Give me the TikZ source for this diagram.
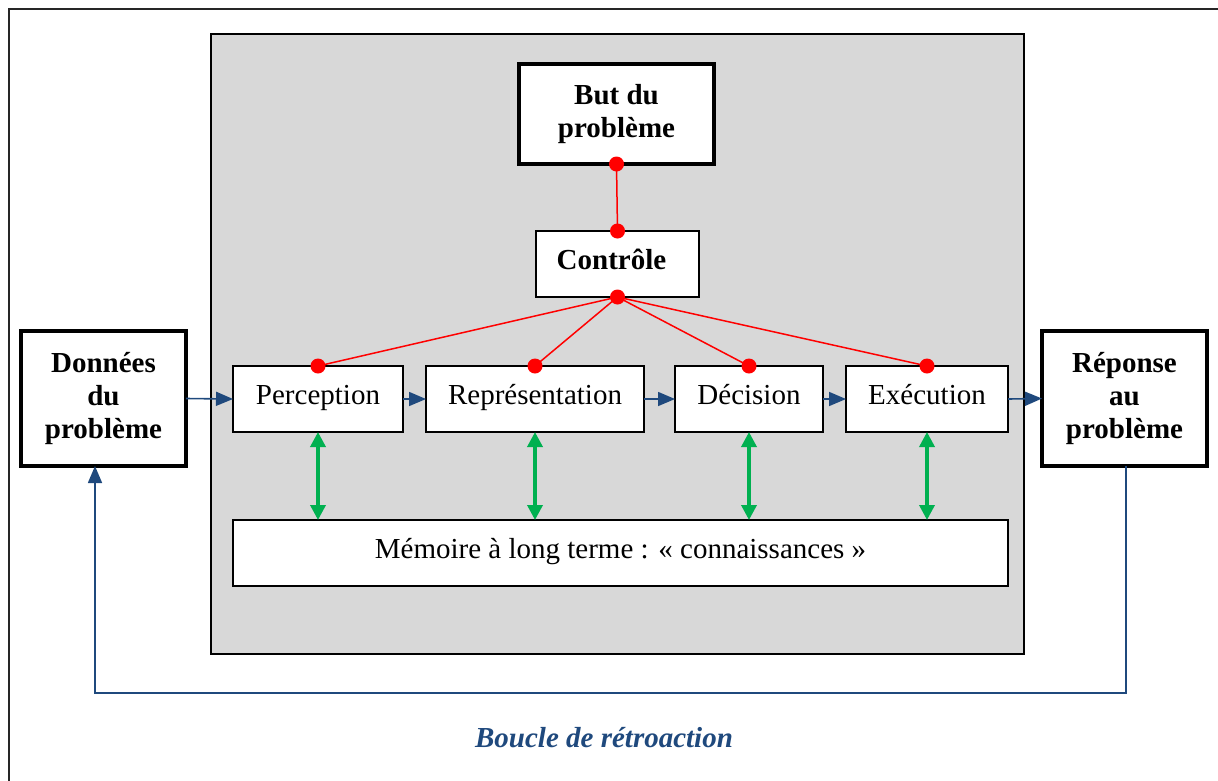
\documentclass[tikz,border=0pt]{standalone}
\usepackage{fontspec}
\setmainfont{Liberation Serif}
\usetikzlibrary{arrows.meta}
\definecolor{panelgray}{RGB}{216,216,216}
\definecolor{flowblue}{RGB}{31,73,125}
\definecolor{memgreen}{RGB}{0,176,80}
\definecolor{linkred}{RGB}{255,0,0}
\begin{document}
\begin{tikzpicture}[x=1pt,y=-1pt,
  stepbox/.style={draw, fill=white, line width=1.3pt, minimum height=66pt,
    inner sep=0pt, outer sep=0pt, text height=20pt, text depth=10pt,
    font=\fontsize{29}{33}\selectfont},
  endbox/.style={draw, fill=white, line width=4pt, inner sep=0pt, outer sep=0pt,
    align=center, font=\bfseries\fontsize{29}{33}\selectfont},
  flow/.style={draw=flowblue, line width=1.6pt, -{Triangle[length=17pt,width=14pt]}},
  memlink/.style={draw=memgreen, line width=3.5pt,
    {Triangle[length=15pt,width=15pt]}-{Triangle[length=15pt,width=15pt]}},
  ctrllink/.style={draw=linkred, line width=1.5pt},
  reddot/.style={circle, fill=linkred, inner sep=0pt, minimum size=15pt}]
\useasboundingbox (0,0) rectangle (1218,780);
\clip (0,0) rectangle (1218,780);
% outer frame and grey processing panel
\draw[line width=2pt, draw=black!85] (9,9) rectangle (1240,800);
\draw[fill=panelgray, line width=2pt] (211,34) rectangle (1024,654);

% goal and control
\node[endbox, minimum width=195pt, minimum height=100pt] (goal) at (616.5,114) {But du\\problème};
\node[stepbox, minimum width=163pt, font=\bfseries\fontsize{29}{33}\selectfont] (ctrl) at (617.5,264) {Contrôle\hspace*{12pt}};

% input and output
\node[endbox, minimum width=165pt, minimum height=135pt] (data) at (103.5,398.5) {Données\\du\\problème};
\node[endbox, minimum width=165pt, minimum height=135pt] (answer) at (1124.5,398.5) {Réponse\\au\\problème};

% processing steps
\node[stepbox, minimum width=170pt] (perc) at (318,399) {Perception};
\node[stepbox, minimum width=218pt] (repr) at (535,399) {Représentation};
\node[stepbox, minimum width=148pt] (deci) at (749,399) {Décision};
\node[stepbox, minimum width=162pt] (exec) at (927,399) {Exécution};

% long-term memory
\node[stepbox, minimum width=775pt] (mem) at (620.5,553) {Mémoire à long terme : « connaissances »};

% control links
\draw[ctrllink] (goal.south) -- (ctrl.north);
\foreach \s in {perc,repr,deci,exec}{
  \draw[ctrllink] (ctrl.south) -- (\s.north);
  \node[reddot] at (\s.north) {};
}
\node[reddot] at (goal.south) {};
\node[reddot] at (ctrl.north) {};
\node[reddot] at (ctrl.south) {};

% memory exchanges
\foreach \s in {perc,repr,deci,exec}{
  \draw[memlink] (\s.south) -- (\s.south |- mem.north);
}

% main flow
\draw[flow] (data.east) -- (perc.west);
\draw[flow] (perc.east) -- (repr.west);
\draw[flow] (repr.east) -- (deci.west);
\draw[flow] (deci.east) -- (exec.west);
\draw[flow] (exec.east) -- (answer.west);

% feedback loop
\coordinate (loopR) at ([xshift=1.5pt]answer.south |- 0,693);
\coordinate (dataIn) at ([xshift=-8.5pt]data.south);
\draw[flow] ([xshift=1.5pt]answer.south) -- (loopR) -| (dataIn);
\node[text=flowblue, font=\bfseries\itshape\fontsize{29}{33}\selectfont] (fb) at (604,738) {Boucle de rétroaction};
\end{tikzpicture}
\end{document}
